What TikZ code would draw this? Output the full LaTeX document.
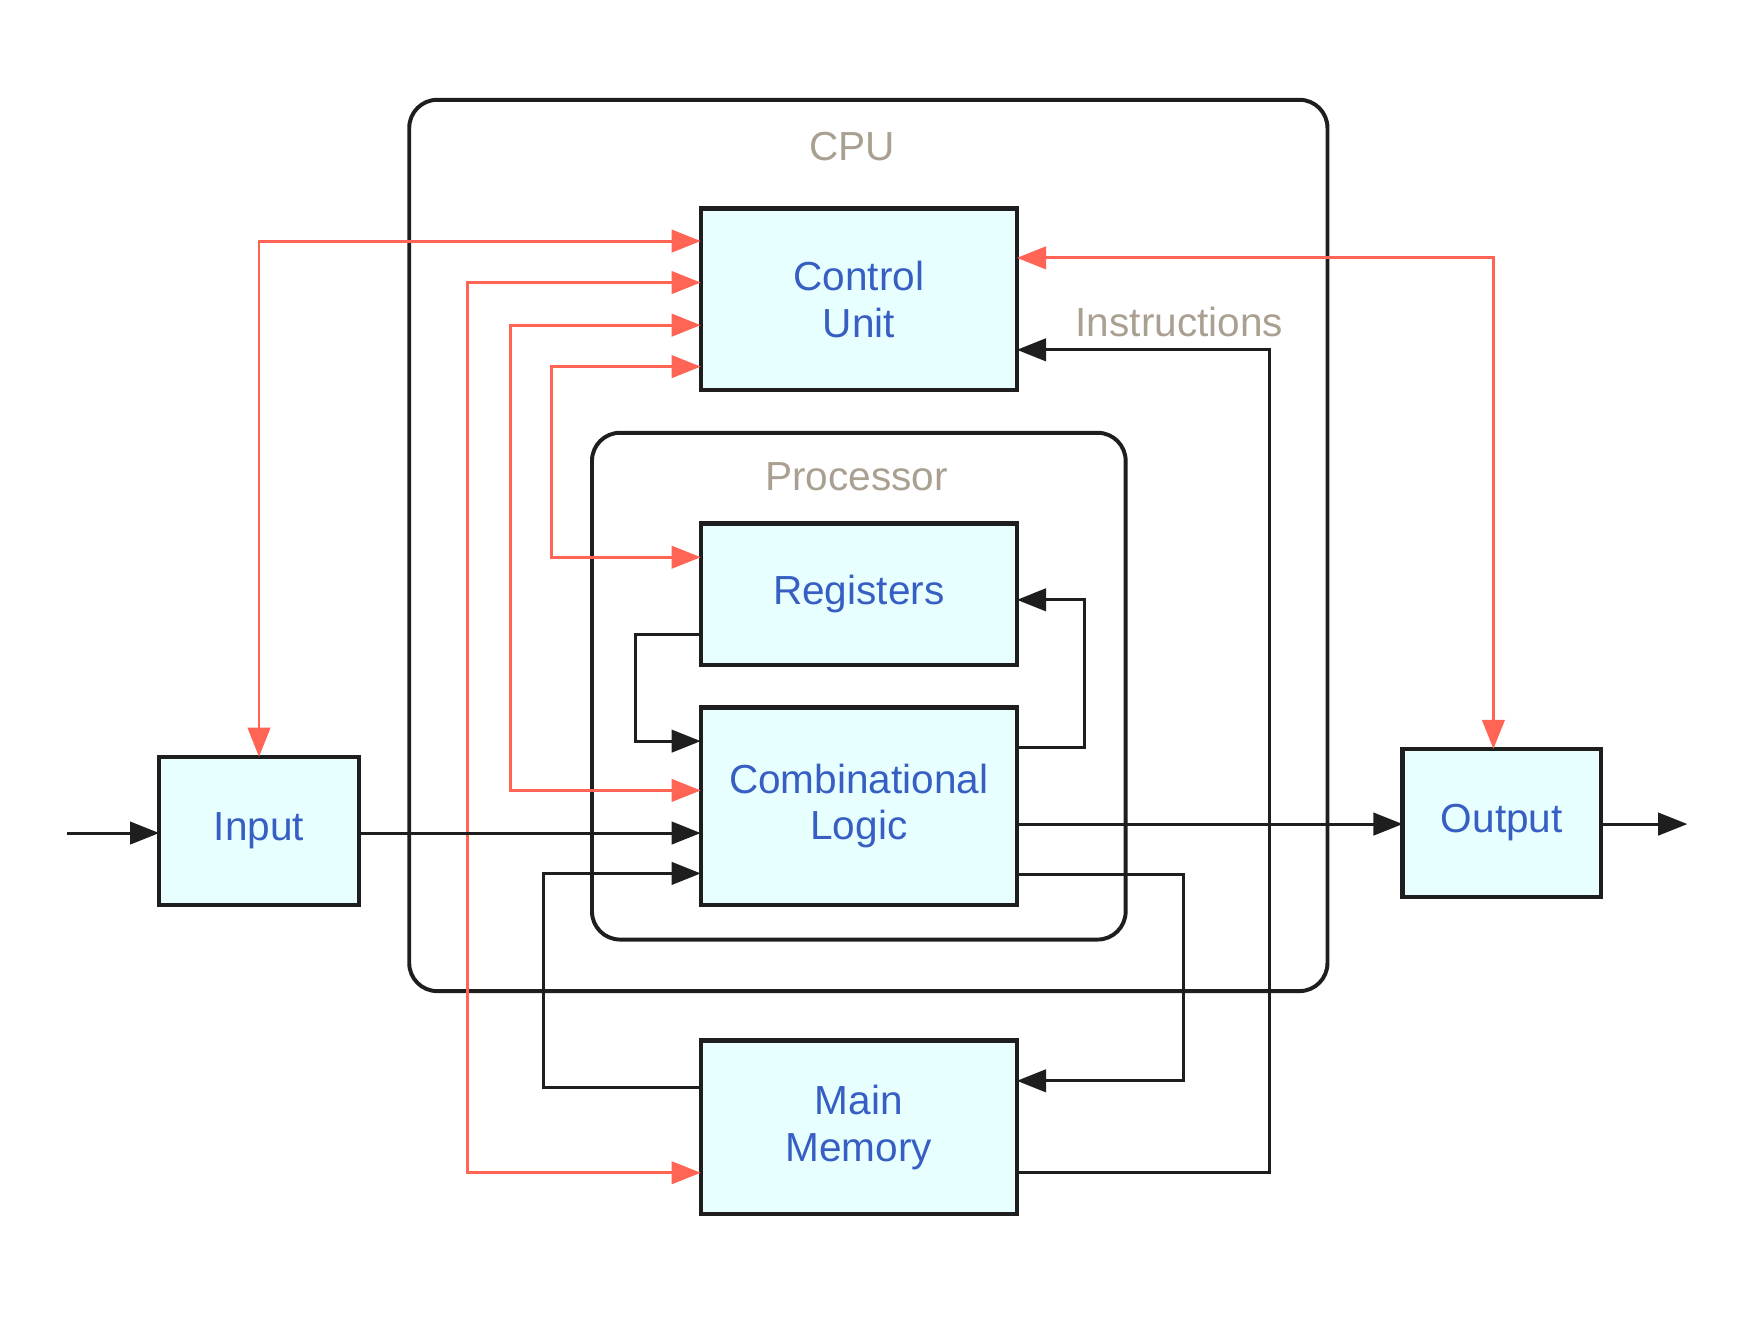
\documentclass[tikz,border=0pt]{standalone}
\usepackage{fontspec}
\setmainfont{Liberation Sans}
\usetikzlibrary{arrows.meta}
\definecolor{boxfill}{RGB}{232,255,255}
\definecolor{boxtext}{RGB}{55,95,195}
\definecolor{framegrey}{RGB}{170,160,145}
\definecolor{ctrlred}{RGB}{255,100,85}
\definecolor{linegrey}{RGB}{30,30,30}

\begin{document}
\begin{tikzpicture}[x=0.1mm,y=-0.1mm,
    font=\fontsize{10.3}{11.8}\selectfont,
    unit/.style={draw=linegrey,line width=1.1pt,fill=boxfill,text=boxtext,align=center,
      minimum width=28.2mm,outer sep=0pt,inner sep=0pt},
    frame/.style={draw=linegrey,line width=1pt,rounded corners=2.5mm,outer sep=0pt},
    tag/.style={text=framegrey,inner sep=1pt},
    flow/.style={linegrey,line width=0.75pt,-{Triangle[length=2.6mm,width=2mm]}},
    ctrl/.style={ctrlred,line width=0.75pt,
      {Triangle[length=2.6mm,width=2mm]}-{Triangle[length=2.6mm,width=2mm]}}]
  \useasboundingbox (0,0) rectangle (1568,1179);

  % frames
  \node[frame,minimum width=81.9mm,minimum height=79.5mm] (cpu) at (774.5,486.5) {};
  \node[frame,minimum width=47.6mm,minimum height=45.2mm] (proc) at (766,612) {};
  \node[tag] (cpulabel) at (760,131) {CPU};
  \node[tag] (proclabel) at (764,425) {Processor};

  % units
  \node[unit,minimum height=16.2mm] (cu) at (766,267) {Control\\Unit};
  \node[unit,minimum height=12.6mm] (reg) at (766,530) {Registers};
  \node[unit,minimum height=17.6mm] (comb) at (766,719) {Combinational\\Logic};
  \node[unit,minimum height=15.5mm] (mem) at (766,1005.5) {Main\\Memory};
  \node[unit,minimum width=17.8mm,minimum height=13.2mm] (input) at (231,741) {Input};
  \node[unit,minimum width=17.7mm,minimum height=13.2mm] (output) at (1339.5,734) {Output};

  % control signals
  \draw[ctrl] (input.north) |- (cu.west |- 0,215);
  \draw[ctrl] (cu.west |- 0,252) -| (417,1046) -- (mem.west |- 0,1046);
  \draw[ctrl] (cu.west |- 0,290) -| (455,705) -- (comb.west |- 0,705);
  \draw[ctrl] (cu.west |- 0,327) -| (492,497) -- (reg.west |- 0,497);
  \draw[ctrl] (cu.east |- 0,230) -| (output.north -| 1332,0);

  % data paths
  \coordinate (src) at (60,743);
  \coordinate (sink) at (1505,735);
  \draw[flow] (src) -- (input.west |- src);
  \draw[flow] (input.east |- src) -- (comb.west |- src);
  \draw[flow] (reg.west |- 0,566) -| (567,661) -- (comb.west |- 0,661);
  \draw[flow] (comb.east |- 0,667) -| (967,535) -- (reg.east |- 0,535);
  \draw[flow] (mem.west |- 0,970) -| (485,779) -- (comb.west |- 0,779);
  \draw[flow] (comb.east |- 0,780) -| (1056,964) -- (mem.east |- 0,964);
  \draw[flow] (comb.east |- sink) -- (output.west |- sink);
  \draw[flow] (output.east |- sink) -- (sink);
  \draw[flow] (mem.east |- 0,1046) -| (1132,312) -- (cu.east |- 0,312);
  \node[tag] (instr) at (1052,287) {Instructions};
\end{tikzpicture}
\end{document}
